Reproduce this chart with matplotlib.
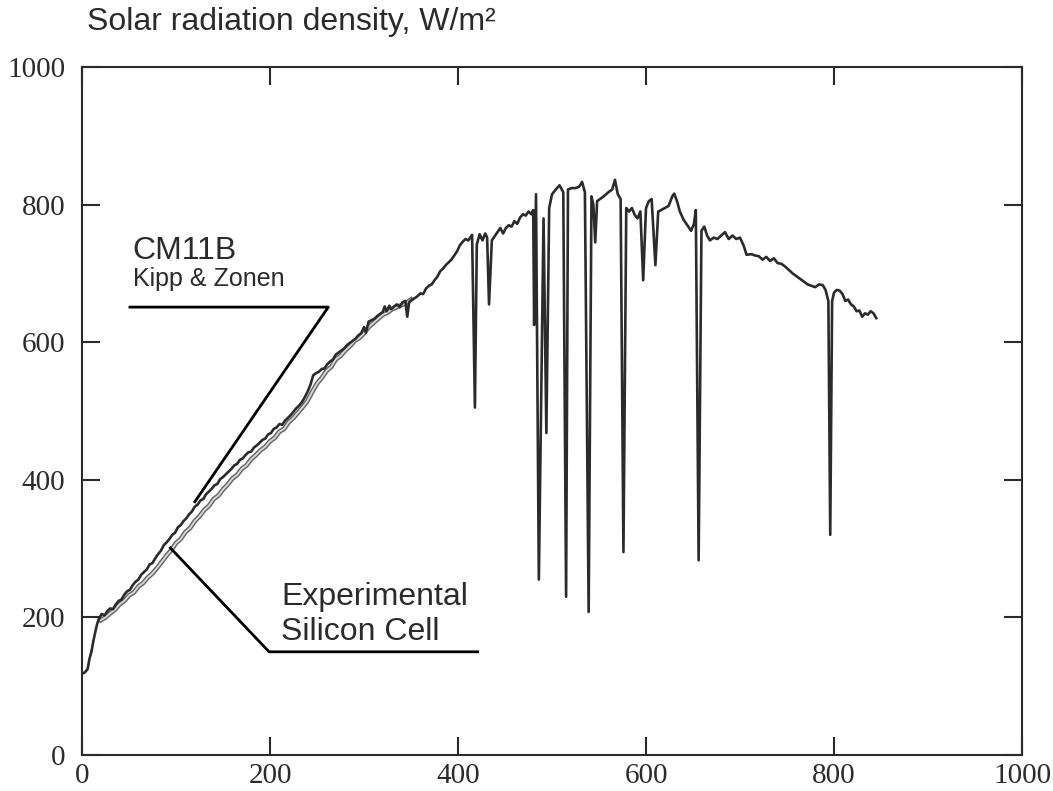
import matplotlib.pyplot as plt
import matplotlib.patheffects as pe

# CM11B (Kipp & Zonen) pyranometer trace
cm_x = [0, 3, 6, 8, 10, 12, 14, 16, 18, 21, 24, 27, 30, 33, 36, 39, 42, 45, 48, 51,
        54, 57, 60, 63, 66, 69, 72, 75, 78, 81, 84, 87, 90, 93, 96, 99, 102, 105,
        108, 111, 114, 117, 120, 123, 126, 129, 132, 135, 138, 141, 144, 147, 150,
        153, 156, 159, 162, 165, 168, 171, 174, 177, 180, 183, 186, 189, 192, 195,
        198, 201, 204, 207, 210, 213, 216, 219, 222, 225, 228, 231, 234, 237, 240,
        243, 246, 249, 252, 255, 258, 261, 264, 267, 270, 273, 276, 279, 282, 285,
        288, 291, 294, 297, 300, 302, 305, 308, 311, 314, 317, 320, 322, 324, 327,
        329, 332, 335, 338, 341, 344, 346, 348, 351, 354, 357, 360, 363, 366, 369,
        372, 375, 378, 381, 384, 387, 390, 393, 396, 399, 402, 405, 408, 411, 413,
        415, 418, 420, 423, 426, 429, 431, 433, 436, 439, 442, 445, 448, 451, 454,
        457, 460, 463, 466, 469, 472, 475, 478, 480, 481, 483, 486, 491, 494, 497,
        500, 504, 508, 512, 515, 517, 521, 525, 529, 532, 535, 539, 542, 544, 546,
        548, 551, 555, 560, 564, 567, 570, 573, 576, 579, 582, 585, 588, 591, 594,
        597, 600, 603, 606, 610, 613, 616, 620, 624, 628, 630, 633, 636, 640, 644,
        648, 651, 653, 656, 659, 662, 665, 668, 672, 676, 680, 684, 688, 692, 696,
        700, 704, 707, 712, 716, 720, 724, 728, 732, 736, 740, 744, 748, 752, 756,
        760, 764, 768, 772, 776, 780, 784, 788, 791, 794, 796, 798, 800, 803, 806,
        809, 812, 815, 818, 821, 824, 827, 830, 833, 836, 839, 842, 845]
cm_y = [118, 120, 125, 140, 150, 165, 178, 190, 198, 205, 203, 209, 213, 212, 219, 224,
        226, 233, 238, 240, 247, 252, 255, 262, 266, 270, 277, 279, 286, 292, 297,
        305, 309, 314, 320, 323, 331, 334, 340, 344, 350, 354, 361, 364, 370, 372,
        379, 383, 387, 392, 394, 401, 404, 408, 412, 416, 421, 423, 429, 431, 436,
        440, 441, 447, 450, 454, 458, 460, 466, 468, 474, 476, 481, 480, 486, 490,
        494, 499, 504, 508, 513, 520, 528, 538, 552, 555, 557, 561, 562, 568, 572,
        575, 582, 585, 588, 591, 596, 599, 602, 605, 610, 613, 622, 614, 630, 632,
        634, 638, 641, 644, 652, 645, 653, 648, 652, 655, 651, 658, 660, 637, 658,
        662, 664, 667, 671, 670, 678, 682, 684, 690, 695, 703, 707, 712, 716, 720,
        726, 732, 741, 746, 750, 748, 752, 756, 505, 742, 757, 748, 758, 752, 655,
        748, 754, 760, 766, 758, 766, 770, 768, 776, 772, 781, 786, 784, 790, 786,
        792, 625, 815, 255, 780, 468, 795, 815, 822, 828, 818, 230, 822, 824, 824,
        826, 833, 818, 208, 812, 800, 745, 805, 808, 812, 818, 822, 836, 815, 808,
        295, 795, 790, 795, 785, 780, 790, 690, 795, 805, 808, 712, 790, 792, 795,
        798, 812, 816, 805, 790, 778, 770, 762, 772, 792, 283, 762, 768, 755, 748,
        752, 750, 755, 760, 750, 755, 750, 752, 740, 727, 728, 726, 725, 720, 724,
        718, 722, 715, 714, 710, 705, 700, 696, 692, 688, 684, 682, 680, 684, 683,
        676, 660, 320, 660, 672, 676, 675, 670, 660, 662, 655, 652, 645, 646, 637,
        642, 640, 645, 642, 635]

# Experimental silicon cell trace (merges with CM11B above ~350)
si_x = [20, 25, 30, 35, 40, 45, 50, 55, 60, 65, 70, 75, 80, 85, 90, 95, 100, 105, 110,
        115, 120, 125, 130, 135, 140, 145, 150, 155, 160, 165, 170, 175, 180, 185,
        190, 195, 200, 205, 210, 215, 220, 225, 230, 235, 240, 245, 250, 255, 260,
        265, 270, 275, 280, 285, 290, 295, 300, 305, 310, 315, 320, 325, 330, 335,
        340, 345, 350]
si_y = [196, 200, 206, 211, 219, 224, 232, 236, 245, 250, 258, 264, 272, 281, 290,
        298, 308, 314, 324, 330, 340, 347, 356, 362, 372, 377, 386, 393, 402, 407,
        416, 421, 430, 436, 443, 448, 456, 461, 470, 474, 484, 490, 498, 506, 515,
        528, 540, 548, 558, 564, 575, 580, 588, 594, 602, 606, 613, 622, 628, 634,
        640, 643, 648, 651, 654, 657, 662]

x_ticks = [0, 200, 400, 600, 800, 1000]
y_ticks = [0, 200, 400, 600, 800, 1000]

title = "Solar radiation density, W/m\u00b2"
ink = "#2b2b2b"

fig = plt.figure(figsize=(10.53, 7.91), dpi=100)
ax = fig.add_axes([82 / 1053, 36 / 791, 940 / 1053, 688 / 791])

ax.plot(si_x, si_y, color="#d8d8d8", linewidth=1.3, zorder=2,
        path_effects=[pe.Stroke(linewidth=3.4, foreground="#666666"), pe.Normal()])
ax.plot(cm_x, cm_y, color=ink, linewidth=1.9, zorder=3)

# leader lines for the labels
ax.plot([51, 262, 120], [651, 651, 368], color="black", linewidth=2.0, zorder=4)
ax.plot([94, 199, 421], [301, 150, 150], color="black", linewidth=2.0, zorder=4)

sans = ["Liberation Sans", "DejaVu Sans"]
ax.text(54, 721, "CM11B", fontsize=23, family=sans, color=ink, va="baseline")
ax.text(54, 682, "Kipp & Zonen", fontsize=18, family=sans, color=ink, va="baseline")
ax.text(212, 218, "Experimental", fontsize=23, family=sans, color=ink, va="baseline")
ax.text(212, 167, "Silicon Cell", fontsize=23, family=sans, color=ink, va="baseline")

ax.set_xlim(0, 1000)
ax.set_ylim(0, 1000)
ax.set_xticks(x_ticks)
ax.set_yticks(y_ticks)
for spine in ax.spines.values():
    spine.set_linewidth(1.5)
    spine.set_color(ink)
ax.tick_params(direction="in", length=13, width=1.5, color=ink,
               top=True, right=True, labelsize=21, labelcolor=ink)
ax.tick_params(axis="x", pad=6)
ax.tick_params(axis="y", pad=12)
for lab in ax.get_xticklabels() + ax.get_yticklabels():
    lab.set_family(["Liberation Serif", "DejaVu Serif"])

fig.text(87 / 1053, 1 - 22 / 791, title, fontsize=23, family=sans, color=ink,
         va="center", ha="left")

fig.savefig("out.png", dpi=100)
